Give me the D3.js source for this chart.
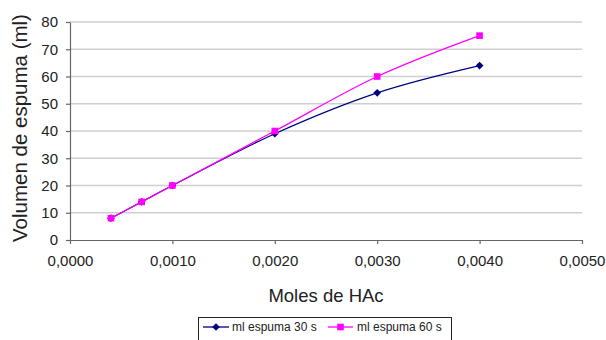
<!DOCTYPE html>
<html>
<head>
<meta charset="utf-8">
<script src="https://cdn.jsdelivr.net/npm/d3@7"></script>
<style>
  html, body { margin: 0; padding: 0; background: #fff; }
  svg { display: block; font-family: "Liberation Sans", Arial, sans-serif; }
</style>
</head>
<body>
<svg id="chart" width="606" height="340"></svg>
<script>
// Moles of acetic acid and foam volume (ml) after 30 s and 60 s
const moles = [0.0004, 0.0007, 0.0010, 0.0020, 0.0030, 0.0040];
const espuma30 = [8, 14, 20, 39, 54, 64];
const espuma60 = [8, 14, 20, 40, 60, 75];
const xTicks = [0, 0.001, 0.002, 0.003, 0.004, 0.005];
const yTicks = [0, 10, 20, 30, 40, 50, 60, 70, 80];
const seriesNames = ["ml espuma 30 s", "ml espuma 60 s"];

const svg = d3.select("#chart");
const plot = { left: 70, right: 582, top: 22, bottom: 240 };

const x = d3.scaleLinear().domain([0, 0.005]).range([plot.left, plot.right]);
const y = d3.scaleLinear().domain([0, 80]).range([plot.bottom, plot.top]);
const fmt = v => d3.format(".4f")(v).replace(".", ",");

// horizontal gridlines
svg.append("g")
  .selectAll("line")
  .data(yTicks.filter(d => d > 0))
  .join("line")
  .attr("x1", plot.left).attr("x2", plot.right)
  .attr("y1", d => y(d)).attr("y2", d => y(d))
  .attr("stroke", "#cfcfcf").attr("stroke-width", 1.3);

// axes
const yAxis = svg.append("g")
  .attr("transform", `translate(${plot.left},0)`)
  .call(d3.axisLeft(y).tickValues(yTicks).tickSize(4).tickPadding(8).tickSizeOuter(0));
const xAxis = svg.append("g")
  .attr("transform", `translate(0,${plot.bottom})`)
  .call(d3.axisBottom(x).tickValues(xTicks).tickFormat(fmt).tickSize(4).tickPadding(11).tickSizeOuter(0));

[yAxis, xAxis].forEach(g => {
  g.select(".domain").attr("stroke", "#666").attr("stroke-width", 1.2);
  g.selectAll(".tick line").attr("stroke", "#666").attr("stroke-width", 1.2);
  g.selectAll(".tick text")
    .attr("fill", "#222")
    .style("font-size", "15px")
    .style("font-family", "'Liberation Sans', Arial, sans-serif");
});

// axis titles
svg.append("text")
  .attr("x", 326).attr("y", 301.5)
  .attr("text-anchor", "middle")
  .attr("fill", "#222")
  .style("font-size", "18.5px")
  .text("Moles de HAc");

svg.append("text")
  .attr("transform", `translate(27,128) rotate(-90)`)
  .attr("text-anchor", "middle")
  .attr("fill", "#222")
  .style("font-size", "20.5px")
  .text("Volumen de espuma (ml)");

// series: navy diamonds (rotated squares) and magenta squares
const series = [
  { name: seriesNames[0], values: espuma30, color: "#000080", rotate: 45, size: 30 },
  { name: seriesNames[1], values: espuma60, color: "#ff00ff", rotate: 0, size: 44 }
];

const line = d3.line()
  .x((d, i) => x(moles[i]))
  .y(d => y(d))
  .curve(d3.curveCatmullRom.alpha(0));

series.forEach(s => {
  svg.append("path")
    .datum(s.values)
    .attr("d", line)
    .attr("fill", "none")
    .attr("stroke", s.color)
    .attr("stroke-width", 1.3);
  svg.append("g")
    .selectAll("path")
    .data(s.values)
    .join("path")
    .attr("transform", (d, i) => `translate(${x(moles[i])},${y(d)}) rotate(${s.rotate})`)
    .attr("d", d3.symbol().type(d3.symbolSquare).size(s.size))
    .attr("fill", s.color);
});

// legend
const legend = svg.append("g");
legend.append("rect")
  .attr("x", 198.5).attr("y", 317.5)
  .attr("width", 253).attr("height", 30)
  .attr("fill", "#fff").attr("stroke", "#222").attr("stroke-width", 1);

const legendItems = [
  { x0: 203, x1: 229, tx: 232 },
  { x0: 328, x1: 353, tx: 357 }
];
series.forEach((s, i) => {
  const it = legendItems[i];
  const cy = 327;
  legend.append("line")
    .attr("x1", it.x0).attr("x2", it.x1)
    .attr("y1", cy).attr("y2", cy)
    .attr("stroke", s.color).attr("stroke-width", 1.3);
  legend.append("path")
    .attr("transform", `translate(${(it.x0 + it.x1) / 2},${cy}) rotate(${s.rotate})`)
    .attr("d", d3.symbol().type(d3.symbolSquare).size(s.size))
    .attr("fill", s.color);
  legend.append("text")
    .attr("x", it.tx).attr("y", cy + 4.2)
    .attr("fill", "#222")
    .style("font-size", "12px")
    .text(s.name);
});
</script>
</body>
</html>
